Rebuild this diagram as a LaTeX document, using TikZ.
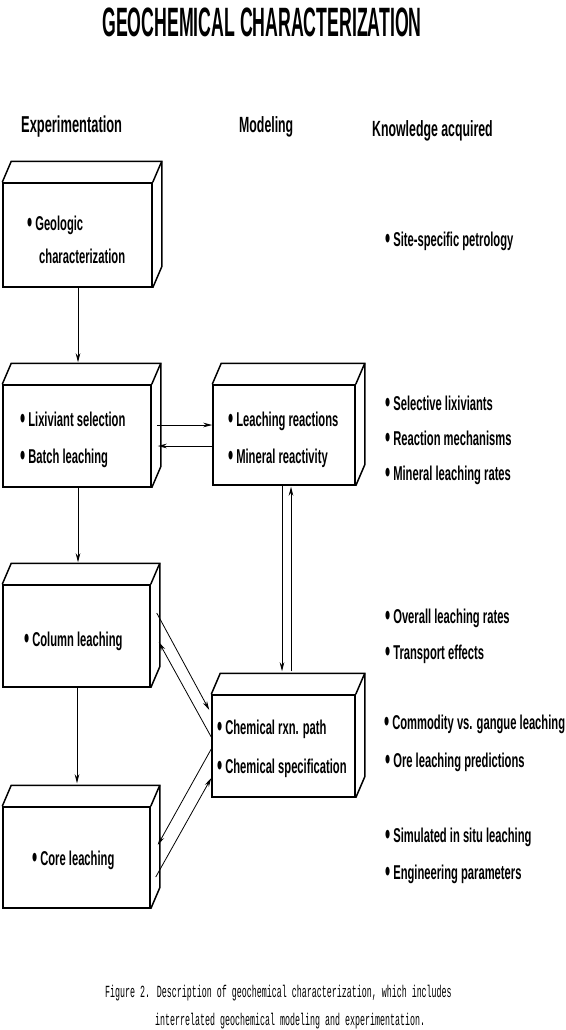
\documentclass[tikz,border=0pt]{standalone}
\usepackage{fontspec}
\usepackage{graphicx}
\setmainfont{Liberation Sans}
\newfontfamily\bodyfont{Liberation Sans}[FakeStretch=0.56]
\newfontfamily\titlefont{Liberation Sans}[FakeStretch=0.432]
\newfontfamily\capfont{Liberation Mono}[FakeStretch=0.49]
\usetikzlibrary{calc,arrows.meta}
\tikzset{
  cube/.style={draw, line width=1.5pt, inner sep=0pt, fill=white},
  cubeline/.style={line width=1.5pt, line join=miter},
  arr/.style={line width=0.8pt, -{Stealth[length=9pt,width=4.5pt]}},
  txt/.style={anchor=base west, inner sep=0pt, font=\bodyfont\bfseries\fontsize{20}{24}\selectfont},
  head/.style={anchor=base west, inner sep=0pt, font=\bodyfont\bfseries\fontsize{22}{26}\selectfont},
  ttl/.style={anchor=base, inner sep=0pt, font=\titlefont\bfseries\fontsize{41}{44}\selectfont},
  captext/.style={anchor=base west, inner sep=0pt, font=\capfont\fontsize{17}{20}\selectfont},
}
\newcommand\cubefaces[1]{%
  \draw[cubeline] (#1.north west) -- ($(#1.north west)+(9,-21)$) -- ($(#1.north east)+(9,-21)$) -- ($(#1.south east)+(9,-21)$) -- (#1.south east);
  \draw[cubeline] (#1.north east) -- ($(#1.north east)+(9,-21)$);
}
\newcommand\bul{\raisebox{-2pt}{\scalebox{1.3}[1.5]{\textbullet}}\hspace{3pt}}
\begin{document}
\begin{tikzpicture}[x=1pt,y=-1pt]
\fill[white] (0,0) rectangle (565,1030);
\useasboundingbox (0,0) rectangle (565,1030);

% title and headers
\node[ttl] (title) at (262,37) {GEOCHEMICAL CHARACTERIZATION};
\node[head] (hexp) at (21,132) {\fontsize{23}{26}\selectfont Experimentation};
\node[head] (hmod) at (239,132) {Modeling};
\node[head] (hknow) at (372,136) {Knowledge acquired};

% boxes (front faces)
\node[cube, minimum width=149pt, minimum height=104pt] (b1) at (77.5,235) {};
\node[cube, minimum width=148pt, minimum height=102pt] (b2) at (77,436) {};
\node[cube, minimum width=142pt, minimum height=100pt] (b3) at (284,435) {};
\node[cube, minimum width=147pt, minimum height=102pt] (b4) at (76.5,636) {};
\node[cube, minimum width=147pt, minimum height=101pt] (b5) at (76.5,857.5) {};
\node[cube, minimum width=143pt, minimum height=102pt] (b6) at (283.5,746) {};
\cubefaces{b1}
\cubefaces{b2}
\cubefaces{b3}
\cubefaces{b4}
\cubefaces{b5}
\cubefaces{b6}

% box texts
\node[txt] (t1a) at (27,230) {\bul Geologic};
\node[txt] (t1b) at (39,263) {characterization};
\node[txt] (t2a) at (20,426) {\bul Lixiviant selection};
\node[txt] (t2b) at (20,463) {\bul Batch leaching};
\node[txt] (t3a) at (228,426) {\bul Leaching reactions};
\node[txt] (t3b) at (228,463) {\bul Mineral reactivity};
\node[txt] (t4a) at (24,646) {\bul Column leaching};
\node[txt] (t5a) at (32,865) {\bul Core leaching};
\node[txt] (t6a) at (217,734) {\bul Chemical rxn. path};
\node[txt] (t6b) at (217,773) {\bul Chemical specification};

% knowledge acquired
\node[txt] (k1) at (385,246) {\bul Site-specific petrology};
\node[txt] (k2) at (385,410) {\bul Selective lixiviants};
\node[txt] (k3) at (385,445) {\bul Reaction mechanisms};
\node[txt] (k4) at (385,480) {\bul Mineral leaching rates};
\node[txt] (k5) at (385,623) {\bul Overall leaching rates};
\node[txt] (k6) at (385,659) {\bul Transport effects};
\node[txt] (k7) at (384,729) {\bul Commodity vs. gangue leaching};
\node[txt] (k8) at (385,767) {\bul Ore leaching predictions};
\node[txt] (k9) at (385,842) {\bul Simulated in situ leaching};
\node[txt] (k10) at (385,879) {\bul Engineering parameters};

% connectors
\draw[arr] ($(b1.south)+(0.5,0)$) -- ($(b2.north)+(1,-22)$);
\draw[arr] ($(b2.east)+(5,-11)$) -- ($(b3.west)+(0,-10)$);
\draw[arr] ($(b3.west)+(0,11)$) -- ($(b2.east)+(6,10)$);
\draw[arr] ($(b2.south)+(1,0)$) -- ($(b4.north)+(1.5,-22)$);
\draw[arr] ($(b4.south)+(0.5,0)$) -- ($(b5.north)+(0.5,-23)$);
\draw[arr] ($(b3.south)+(-2,0)$) -- ($(b6.north)+(-1.5,-23)$);
\draw[arr] ($(b6.north)+(7.5,-23)$) -- ($(b3.south)+(7,1)$);
\draw[arr] ($(b4.east)+(6,-23)$) -- ($(b6.west)+(-2,-36)$);
\draw[arr] ($(b6.west)+(0,-9)$) -- ($(b4.east)+(8,6)$);
\draw[arr] ($(b6.west)+(0,3)$) -- ($(b5.east)+(7,-12.5)$);
\draw[arr] ($(b5.east)+(5,19.5)$) -- ($(b6.west)+(0,32)$);

% caption
\node[captext] (c1) at (105,997) {Figure 2. Description of geochemical characterization, which includes};
\node[captext] (c2) at (155,1025) {interrelated geochemical modeling and experimentation.};
\end{tikzpicture}
\end{document}
